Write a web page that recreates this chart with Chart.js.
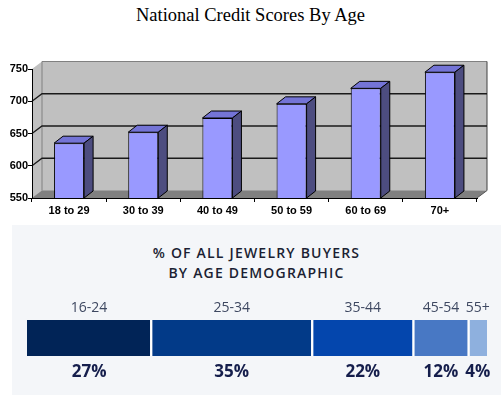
<!DOCTYPE html>
<html>
<head>
<meta charset="utf-8">
<script src="https://cdn.jsdelivr.net/npm/chart.js@4.4.1/dist/chart.umd.min.js"></script>
<style>
    body { margin: 0; background: #fff; width: 501px; height: 395px; position: relative; overflow: hidden; }
    #title1 { position: absolute; left: 0; top: 5px; width: 501px; text-align: center; font: 18.5px 'Liberation Serif', 'Times New Roman', serif; color: #000; }
    #wrap1 { position: absolute; left: 0; top: 40px; width: 501px; height: 180px; }
    #panel { position: absolute; left: 12px; top: 225px; width: 489px; height: 170px; background: #f4f6f9; }
    #title2 { position: absolute; left: 0; top: 18px; width: 489px; text-align: center; font: 600 14px 'Open Sans', sans-serif; letter-spacing: 1.2px; line-height: 20px; color: #1b1f33; }
    #wrap2 { position: absolute; left: 0; top: 290px; width: 501px; height: 105px; }
</style>
</head>
<body>
<div id="title1">National Credit Scores By Age</div>
<div id="wrap1"><canvas id="chart"></canvas></div>
<div id="panel"><div id="title2">% OF ALL JEWELRY BUYERS<br>BY AGE DEMOGRAPHIC</div></div>
<div id="wrap2"><canvas id="chart2"></canvas></div>
<script>
let ageGroups = ['18 to 29', '30 to 39', '40 to 49', '50 to 59', '60 to 69', '70+'];
let creditScores = [635, 652, 674, 696, 720, 745];
let scoreTicks = [550, 600, 650, 700, 750];

let buyerGroups = ['16-24', '25-34', '35-44', '45-54', '55+'];
let buyerShares = [27, 35, 22, 12, 4];
let buyerColors = ['#012457', '#023a88', '#0446ad', '#4878c4', '#8eb0de'];

// depth of the fake 3d box
const wallDx = 10, wallDy = 7.5;
const barDx = 9, barDy = 7;

const box3d = {
    id: 'box3d',
    beforeDraw(chart) {
        const ctx = chart.ctx;
        const a = chart.chartArea;
        const y = chart.scales.y;
        ctx.save();
        // side wall + back wall
        ctx.fillStyle = '#c0c0c0';
        ctx.beginPath();
        ctx.moveTo(a.left, a.top);
        ctx.lineTo(a.left + wallDx, a.top - wallDy);
        ctx.lineTo(a.right + wallDx, a.top - wallDy);
        ctx.lineTo(a.right + wallDx, a.bottom - wallDy);
        ctx.lineTo(a.left, a.bottom);
        ctx.closePath();
        ctx.fill();
        ctx.strokeStyle = '#808080';
        ctx.lineWidth = 1;
        ctx.beginPath();
        ctx.moveTo(a.left + wallDx, a.bottom - wallDy);
        ctx.lineTo(a.left + wallDx, a.top - wallDy);
        ctx.lineTo(a.right + wallDx, a.top - wallDy);
        ctx.stroke();
        ctx.strokeStyle = '#404040';
        ctx.beginPath();
        ctx.moveTo(a.right + wallDx, a.top - wallDy);
        ctx.lineTo(a.right + wallDx, a.bottom - wallDy);
        ctx.stroke();
        // floor
        ctx.fillStyle = '#808080';
        ctx.beginPath();
        ctx.moveTo(a.left, a.bottom);
        ctx.lineTo(a.left + wallDx, a.bottom - wallDy);
        ctx.lineTo(a.right + wallDx, a.bottom - wallDy);
        ctx.lineTo(a.right, a.bottom);
        ctx.closePath();
        ctx.fill();
        ctx.strokeStyle = '#555';
        ctx.beginPath();
        ctx.moveTo(a.right, a.bottom);
        ctx.lineTo(a.right + wallDx, a.bottom - wallDy);
        ctx.stroke();
        // grid lines
        ctx.strokeStyle = '#1a1a1a';
        ctx.lineWidth = 1.3;
        scoreTicks.slice(1, -1).forEach(v => {
            const py = y.getPixelForValue(v);
            ctx.beginPath();
            ctx.moveTo(a.left, py);
            ctx.lineTo(a.left + wallDx, py - wallDy);
            ctx.lineTo(a.right + wallDx, py - wallDy);
            ctx.stroke();
        });
        ctx.restore();
    },
    afterDatasetsDraw(chart) {
        const ctx = chart.ctx;
        const floor = chart.chartArea.bottom;
        ctx.save();
        ctx.strokeStyle = '#000';
        ctx.lineWidth = 1;
        ctx.lineJoin = 'round';
        chart.getDatasetMeta(0).data.forEach(bar => {
            const l = bar.x - bar.width / 2, r = bar.x + bar.width / 2;
            const t = bar.y, b = Math.min(bar.base, floor);
            ctx.fillStyle = '#7474d6';
            ctx.beginPath();
            ctx.moveTo(l, t);
            ctx.lineTo(l + barDx, t - barDy);
            ctx.lineTo(r + barDx, t - barDy);
            ctx.lineTo(r, t);
            ctx.closePath();
            ctx.fill();
            ctx.stroke();
            ctx.fillStyle = '#4d4d80';
            ctx.beginPath();
            ctx.moveTo(r, t);
            ctx.lineTo(r + barDx, t - barDy);
            ctx.lineTo(r + barDx, b - barDy);
            ctx.lineTo(r, b);
            ctx.closePath();
            ctx.fill();
            ctx.stroke();
        });
        ctx.restore();
    }
};

new Chart(document.getElementById('chart'), {
    type: 'bar',
    data: {
        labels: ageGroups,
        datasets: [{
            data: creditScores,
            backgroundColor: '#9999ff',
            borderColor: '#000',
            borderWidth: 1,
            borderSkipped: false,
            barPercentage: 0.405,
            categoryPercentage: 1
        }]
    },
    options: {
        responsive: true,
        maintainAspectRatio: false,
        animation: false,
        layout: { padding: { top: 29, right: 24, left: 0, bottom: 0 } },
        plugins: { legend: { display: false }, tooltip: { enabled: false } },
        scales: {
            x: {
                grid: { drawOnChartArea: false, drawTicks: true, tickLength: 4, color: '#000', offset: true },
                border: { color: '#000', width: 1 },
                ticks: { color: '#000', padding: 2, font: { family: 'Liberation Sans, Arial', size: 11, weight: 'bold' } },
                afterFit: s => { s.height = 22; }
            },
            y: {
                min: 550,
                max: 750,
                grid: { drawOnChartArea: false, drawTicks: true, tickLength: 4, color: '#000' },
                border: { color: '#000', width: 1 },
                afterBuildTicks: s => { s.ticks = scoreTicks.map(v => ({ value: v })); },
                ticks: { color: '#000', padding: 0, font: { family: 'Liberation Sans, Arial', size: 11, weight: 'bold' } },
                afterFit: s => { s.width = 32; }
            }
        }
    },
    plugins: [box3d]
});

const segmentText = {
    id: 'segmentText',
    afterDatasetsDraw(chart) {
        const ctx = chart.ctx;
        const a = chart.chartArea;
        ctx.save();
        ctx.textAlign = 'center';
        ctx.textBaseline = 'middle';
        chart.data.datasets.forEach((ds, i) => {
            const bar = chart.getDatasetMeta(i).data[0];
            const cx = (bar.x + bar.base) / 2;
            ctx.fillStyle = '#3e4861';
            ctx.font = '14px "Open Sans", sans-serif';
            ctx.fillText(buyerGroups[i], cx, a.top - 12);
            ctx.fillStyle = '#151e4c';
            ctx.font = 'bold 17px "Open Sans", sans-serif';
            ctx.fillText(buyerShares[i] + '%', cx, a.bottom + 16);
        });
        ctx.restore();
    }
};

new Chart(document.getElementById('chart2'), {
    type: 'bar',
    data: {
        labels: ['all'],
        datasets: buyerGroups.map((g, i) => ({
            label: g,
            data: [buyerShares[i]],
            backgroundColor: buyerColors[i],
            borderColor: '#ffffff',
            borderWidth: { left: i === 0 ? 0 : 1.5, right: i === buyerGroups.length - 1 ? 0 : 1.5, top: 0, bottom: 0 },
            borderSkipped: false,
            barPercentage: 1,
            categoryPercentage: 1
        }))
    },
    options: {
        indexAxis: 'y',
        responsive: true,
        maintainAspectRatio: false,
        animation: false,
        layout: { padding: { left: 27, right: 14, top: 30, bottom: 39 } },
        plugins: { legend: { display: false }, tooltip: { enabled: false } },
        scales: {
            x: { stacked: true, min: 0, max: 100, display: false },
            y: { stacked: true, display: false }
        }
    },
    plugins: [segmentText]
});
</script>
</body>
</html>
